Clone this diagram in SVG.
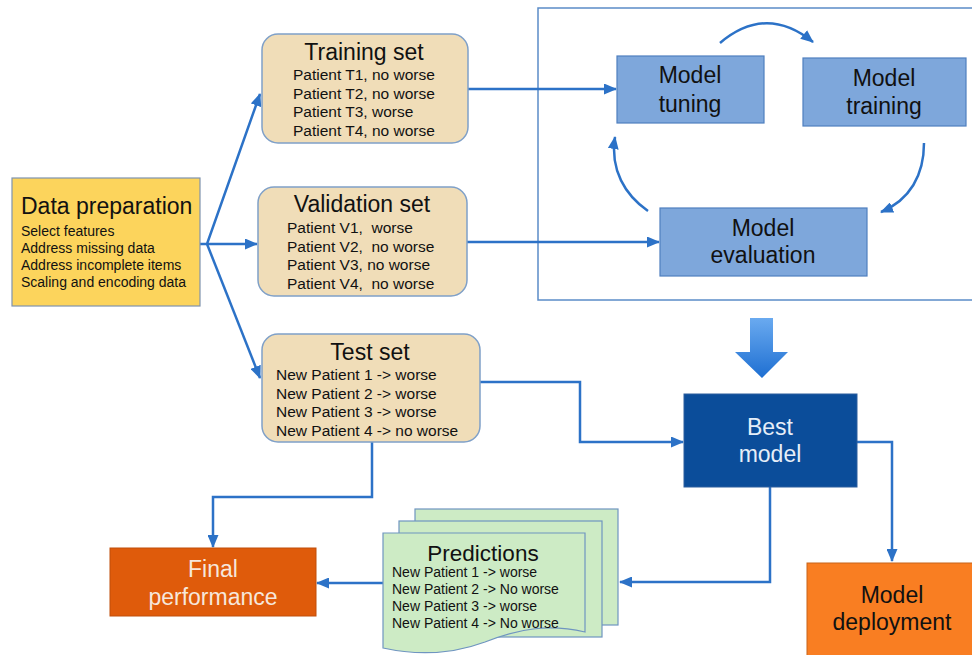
<svg xmlns="http://www.w3.org/2000/svg" width="972" height="655" viewBox="0 0 972 655">
<defs>
<style>
text{font-family:"Liberation Sans",Arial,sans-serif;fill:#111;white-space:pre}
.t{font-size:23px;text-anchor:middle}
.s{font-size:15.5px}
.p{font-size:14px}
.c{fill:none;stroke:#2C72C7;stroke-width:2.5}
.set{fill:#F0DDB8;stroke:#7FA0C8;stroke-width:1.5}
.mb{fill:#7EA7DB;stroke:#4F7FBF;stroke-width:1.2}
.sheet{fill:#CDEBC5;stroke:#6F95C0;stroke-width:1.2}
</style>
<marker id="ah" markerUnits="userSpaceOnUse" markerWidth="13" markerHeight="11" refX="12" refY="5.5" orient="auto">
<path d="M0,0 L13,5.5 L0,11 z" fill="#2C72C7"/>
</marker>
<linearGradient id="bg" x1="0" y1="0" x2="0" y2="1">
<stop offset="0" stop-color="#6AAAF0"/>
<stop offset="1" stop-color="#1E6FD2"/>
</linearGradient>
</defs>
<rect width="972" height="655" fill="#fff"/>
<rect x="538" y="8" width="440" height="292" fill="none" stroke="#5B8CC8" stroke-width="1.5"/>
<g id="connectors">
<path class="c" d="M200,244 H207 L260,94" marker-end="url(#ah)"/>
<path class="c" d="M207,244 H257" marker-end="url(#ah)"/>
<path class="c" d="M207,244 L260,378" marker-end="url(#ah)"/>
<path class="c" d="M468,89 H616" marker-end="url(#ah)"/>
<path class="c" d="M467,242 H659" marker-end="url(#ah)"/>
<path class="c" d="M480,382 H580 V442 H683" marker-end="url(#ah)"/>
<path class="c" d="M372,442 V497 H213 V547" marker-end="url(#ah)"/>
<path class="c" d="M857,442 H892 V561" marker-end="url(#ah)"/>
<path class="c" d="M770,487 V582 H620" marker-end="url(#ah)"/>
<path class="c" d="M383,583 H317" marker-end="url(#ah)"/>
<path class="c" d="M720,43 Q766,4 813,42" marker-end="url(#ah)"/>
<path class="c" d="M924,143 C924,175 910,200 881,212" marker-end="url(#ah)"/>
<path class="c" d="M648,211 C625,195 610,170 615,137" marker-end="url(#ah)"/>
<polygon points="750,318 773,318 773,352 788,352 762,378 735,352 750,352" fill="url(#bg)"/>
</g>
<g id="data-preparation">
<rect x="12" y="178" width="188" height="128" fill="#FCD45C" stroke="#7F93AE" stroke-width="1.2"/>
<text x="21" y="214" style="font-size:23px">Data preparation</text>
<text class="p" x="21" y="236">Select features</text>
<text class="p" x="21" y="253">Address missing data</text>
<text class="p" x="21" y="270">Address incomplete items</text>
<text class="p" x="21" y="287">Scaling and encoding data</text>
</g>
<g id="training-set">
<rect class="set" x="262" y="34" width="206" height="109" rx="16"/>
<text class="t" x="364" y="60">Training set</text>
<text class="s" x="293" y="80">Patient T1, no worse</text>
<text class="s" x="293" y="99">Patient T2, no worse</text>
<text class="s" x="293" y="117">Patient T3, worse</text>
<text class="s" x="293" y="136">Patient T4, no worse</text>
</g>
<g id="validation-set">
<rect class="set" x="258" y="187" width="209" height="109" rx="16"/>
<text class="t" x="362" y="212">Validation set</text>
<text class="s" x="287" y="233">Patient V1,  worse</text>
<text class="s" x="287" y="252">Patient V2,  no worse</text>
<text class="s" x="287" y="270">Patient V3, no worse</text>
<text class="s" x="287" y="289">Patient V4,  no worse</text>
</g>
<g id="test-set">
<rect class="set" x="262" y="334" width="218" height="108" rx="16"/>
<text class="t" x="370" y="360">Test set</text>
<text class="s" x="276" y="380">New Patient 1 -&gt; worse</text>
<text class="s" x="276" y="399">New Patient 2 -&gt; worse</text>
<text class="s" x="276" y="417">New Patient 3 -&gt; worse</text>
<text class="s" x="276" y="436">New Patient 4 -&gt; no worse</text>
</g>
<g id="model-tuning">
<rect class="mb" x="617" y="56" width="147" height="67"/>
<text class="t" x="690" y="83">Model</text>
<text class="t" x="690" y="112">tuning</text>
</g>
<g id="model-training">
<rect class="mb" x="803" y="58" width="163" height="68"/>
<text class="t" x="884" y="86">Model</text>
<text class="t" x="884" y="114">training</text>
</g>
<g id="model-evaluation">
<rect class="mb" x="660" y="208" width="207" height="68"/>
<text class="t" x="763" y="236">Model</text>
<text class="t" x="763" y="263">evaluation</text>
</g>
<g id="best-model">
<rect x="684" y="394" width="173" height="93" fill="#0B4D9A" stroke="#2C5E9E" stroke-width="1"/>
<text class="t" x="770" y="435" style="fill:#E6EEF8">Best</text>
<text class="t" x="770" y="462" style="fill:#E6EEF8">model</text>
</g>
<g id="model-deployment">
<rect x="807" y="563" width="170" height="96" fill="#F97E22" stroke="#C8641A" stroke-width="1"/>
<text class="t" x="892" y="603">Model</text>
<text class="t" x="892" y="630">deployment</text>
</g>
<g id="predictions">
<rect class="sheet" x="415" y="509" width="203" height="116"/>
<rect class="sheet" x="399" y="521" width="203" height="116"/>
<path class="sheet" d="M383,533 H585 V632 C550,624 520,628 485,642 C450,655 415,655 383,648 Z"/>
<text class="t" x="483" y="561" style="font-size:22.5px">Predictions</text>
<text class="p" x="392" y="577">New Patient 1 -&gt; worse</text>
<text class="p" x="392" y="594">New Patient 2 -&gt; No worse</text>
<text class="p" x="392" y="611">New Patient 3 -&gt; worse</text>
<text class="p" x="392" y="628">New Patient 4 -&gt; No worse</text>
</g>
<g id="final-performance">
<rect x="110" y="548" width="206" height="68" fill="#DF5B0B" stroke="#C04F0A" stroke-width="1"/>
<text class="t" x="213" y="577" style="fill:#F6E7DC">Final</text>
<text class="t" x="213" y="605" style="fill:#F6E7DC">performance</text>
</g>
</svg>
